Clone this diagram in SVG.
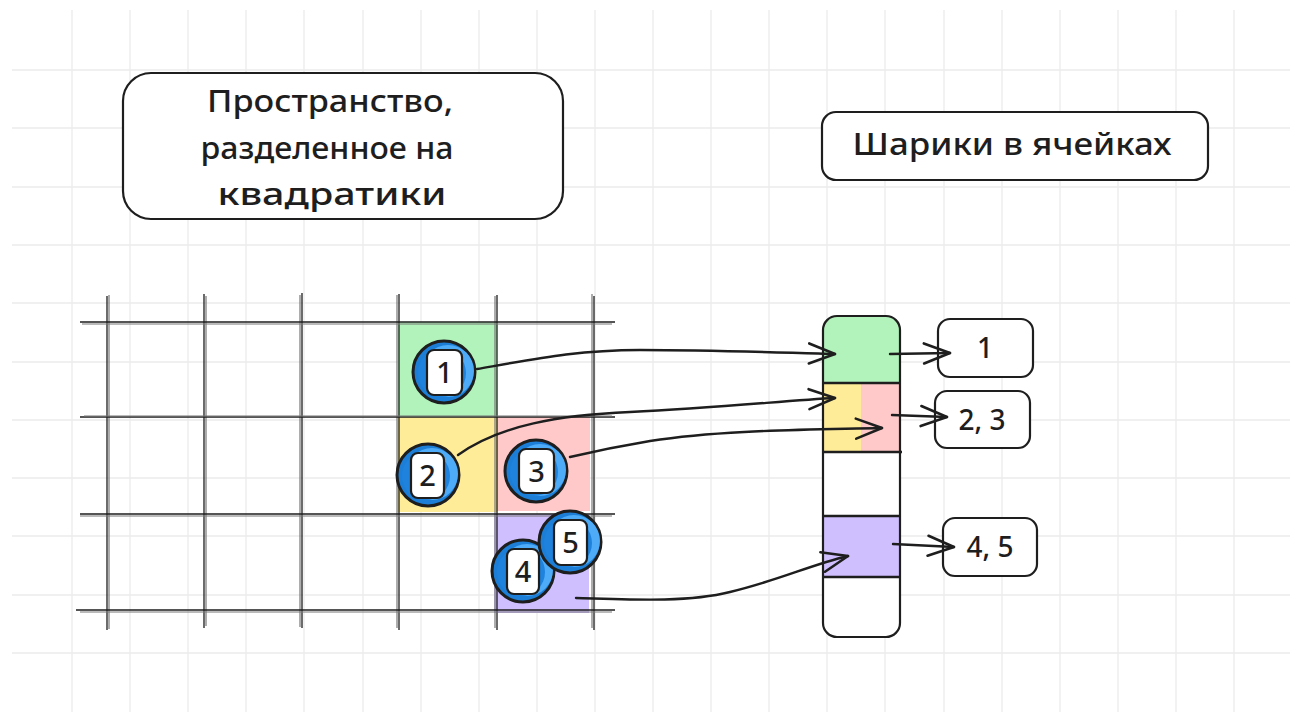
<svg xmlns="http://www.w3.org/2000/svg" width="1306" height="724" viewBox="0 0 1306 724">
<defs>
<style>
.bg{stroke:#ebebeb;stroke-width:1.3;fill:none}
.gl{stroke:#1e1e1e;stroke-width:1.3;fill:none}
.gl2{stroke:#777;stroke-width:1.2;fill:none}
.box{fill:#fff;stroke:#1e1e1e;stroke-width:2.2}
.t{font-family:"Noto Sans","Liberation Sans",sans-serif;fill:#1e1e1e;text-anchor:middle}
.con{fill:none;stroke:#1e1e1e;stroke-width:2.4;stroke-linecap:round}
.ballo{fill:#1c7ed6;stroke:#1e1e1e;stroke-width:3}
.balll{fill:#4dabf7}
.balld{fill:#1f82dd}
.lab{fill:#fff;stroke:#1e1e1e;stroke-width:2.2}
</style>
<marker id="ah" markerUnits="userSpaceOnUse" markerWidth="32" markerHeight="24" refX="28" refY="12" orient="auto">
<path d="M2,2 L28,12 L2,22" fill="none" stroke="#1e1e1e" stroke-width="2.6" stroke-linecap="round" stroke-linejoin="round"/>
</marker>
<g id="ball">
<circle class="ballo" cx="0" cy="0" r="31"/>
<circle class="balll" cx="4" cy="-1" r="26"/>
<circle class="balld" cx="-2" cy="1" r="24"/>
</g>
</defs>
<rect width="1306" height="724" fill="#fff"/>
<g id="background-grid">
<path class="bg" d="M72,10V712M130,10V712M188,10V712M246,10V712M304,10V712M363,10V712M421,10V712M479,10V712M537,10V712M595,10V712M653,10V712M711,10V712M769,10V712M827,10V712M885,10V712M944,10V712M1002,10V712M1060,10V712M1118,10V712M1176,10V712M1234,10V712"/>
<path class="bg" d="M12,70H1290M12,128H1290M12,187H1290M12,245H1290M12,303H1290M12,362H1290M12,420H1290M12,478H1290M12,536H1290M12,595H1290M12,653H1290"/>
</g>
<g id="title-space">
<rect class="box" x="123" y="73" width="440" height="146" rx="28"/>
<text class="t" font-size="30" font-weight="500" x="330" y="112" textLength="246" lengthAdjust="spacingAndGlyphs">Пространство,</text>
<text class="t" font-size="30" font-weight="500" x="327" y="159" textLength="253" lengthAdjust="spacingAndGlyphs">разделенное на</text>
<text class="t" font-size="30" font-weight="500" x="332" y="205" textLength="229" lengthAdjust="spacingAndGlyphs">квадратики</text>
</g>
<g id="title-cells">
<rect class="box" x="822" y="112" width="386" height="68" rx="14"/>
<text class="t" font-size="30" font-weight="500" x="1012" y="155" textLength="319" lengthAdjust="spacingAndGlyphs">Шарики в ячейках</text>
</g>
<g id="space-grid">
<rect x="398" y="322" width="99" height="95" fill="#b2f2bb"/>
<rect x="397" y="417" width="100" height="95" fill="#ffec99"/>
<rect x="497" y="417" width="93" height="94" fill="#ffc9c9"/>
<rect x="494" y="514" width="95" height="99" fill="#d0bfff"/>
<path class="gl" d="M107,296V630M204,294V628M302,293V628M399,294V630M497,295V630M594,296V630"/>
<path class="gl2" d="M109,295V629M206,296V626M300,295V627M397,295V628M495,296V628M592,294V628"/>
<path class="gl" d="M80,322H615M80,417H615M80,514H615M76,610H615"/>
<path class="gl2" d="M82,324H612M84,416H612M80,516H612M80,612H612"/>
</g>
<g id="cell-array">
<rect x="823" y="316" width="77" height="321" rx="14" fill="#fff"/>
<path d="M823,383V330Q823,316 837,316H886Q900,316 900,330V383Z" fill="#b2f2bb"/>
<rect x="823" y="383" width="38" height="69" fill="#ffec99"/>
<rect x="861" y="383" width="39" height="69" fill="#ffc9c9"/>
<rect x="823" y="516" width="77" height="61" fill="#d0bfff"/>
<rect x="823" y="316" width="77" height="321" rx="14" fill="none" stroke="#1e1e1e" stroke-width="2.2"/>
<path d="M823,383H900M823,452H902M823,516H900M823,577H900" stroke="#1e1e1e" stroke-width="2.4" fill="none"/>
</g>
<g id="ball-1">
<use href="#ball" x="444" y="372"/>
<rect class="lab" x="427" y="350" width="35" height="45" rx="7"/>
<text class="t" font-size="29" font-weight="500" x="444.5" y="383">1</text>
</g>
<g id="ball-2">
<use href="#ball" x="428" y="475"/>
<rect class="lab" x="411" y="453" width="33" height="45" rx="7"/>
<text class="t" font-size="29" font-weight="500" x="427.5" y="486">2</text>
</g>
<g id="ball-3">
<use href="#ball" x="536" y="471"/>
<rect class="lab" x="519" y="449" width="35" height="44" rx="7"/>
<text class="t" font-size="29" font-weight="500" x="536.5" y="482">3</text>
</g>
<g id="ball-4">
<use href="#ball" x="523" y="571"/>
<rect class="lab" x="507" y="549" width="32" height="45" rx="7"/>
<text class="t" font-size="29" font-weight="500" x="523" y="582">4</text>
</g>
<g id="ball-5">
<use href="#ball" x="570" y="542"/>
<rect class="lab" x="554" y="520" width="33" height="45" rx="7"/>
<text class="t" font-size="29" font-weight="500" x="570.5" y="553">5</text>
</g>
<g id="list-1">
<rect class="box" x="938" y="319" width="95" height="58" rx="12"/>
<text class="t" font-size="28" font-weight="500" x="985" y="358">1</text>
</g>
<g id="list-23">
<rect class="box" x="935" y="391" width="95" height="57" rx="12"/>
<text class="t" font-size="28" font-weight="500" x="982" y="430">2, 3</text>
</g>
<g id="list-45">
<rect class="box" x="943" y="518" width="94" height="58" rx="12"/>
<text class="t" font-size="28" font-weight="500" x="990" y="557">4, 5</text>
</g>
<g id="connectors">
<path class="con" marker-end="url(#ah)" d="M477,369 C540,358 580,350 640,350 C720,350 790,353 835,354"/>
<path class="con" marker-end="url(#ah)" d="M458,455 C500,425 560,415 630,412 C720,408 790,400 835,398"/>
<path class="con" marker-end="url(#ah)" d="M570,457 C600,450 620,446 650,441 C720,430 800,430 882,428"/>
<path class="con" marker-end="url(#ah)" d="M576,598 C640,600 690,602 730,592 C780,580 810,565 848,556"/>
<path class="con" marker-end="url(#ah)" d="M890,354 L950,353"/>
<path class="con" marker-end="url(#ah)" d="M892,415 L947,417"/>
<path class="con" marker-end="url(#ah)" d="M893,544 L954,547"/>
</g>
</svg>
